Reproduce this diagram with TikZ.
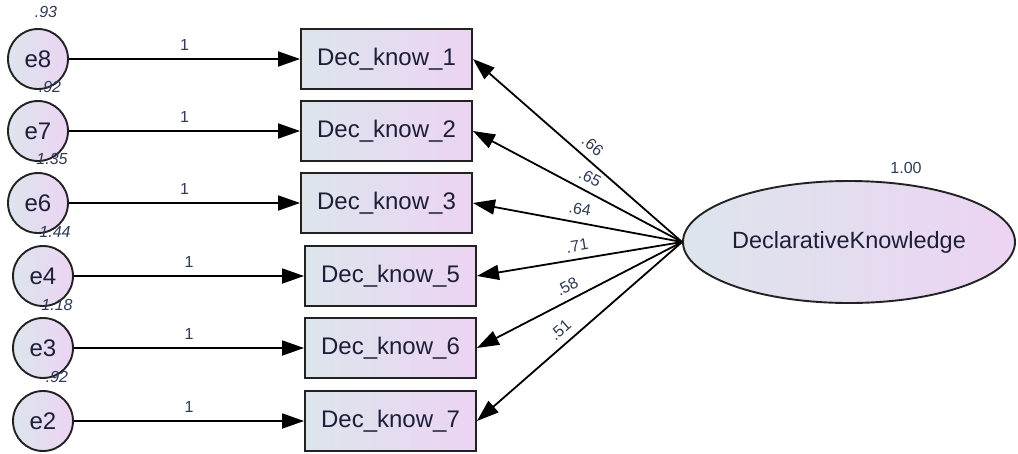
\documentclass[tikz,border=0pt]{standalone}
\usepackage{fontspec}
\setmainfont{Liberation Sans}
\usetikzlibrary{arrows.meta,shapes.geometric}
\definecolor{shadeL}{HTML}{DDE5EC}
\definecolor{shadeR}{HTML}{ECD4F3}
\definecolor{edgec}{HTML}{222222}
\definecolor{numc}{HTML}{2E3A55}
\definecolor{txtc}{HTML}{1E1E3A}
\tikzset{
  x=1pt, y=-1pt,
  obsbox/.style={draw=edgec, line width=1.9pt, left color=shadeL, right color=shadeR,
    minimum width=171pt, minimum height=60pt, inner sep=0pt, text=txtc,
    font=\fontsize{24}{26}\selectfont},
  errc/.style={circle, draw=edgec, line width=1.9pt, left color=shadeL, right color=shadeR,
    minimum size=60pt, inner sep=0pt, text=txtc, font=\fontsize{24}{26}\selectfont},
  latent/.style={ellipse, draw=edgec, line width=1.9pt, left color=shadeL, right color=shadeR,
    minimum width=332pt, minimum height=122pt, inner sep=0pt, text=txtc,
    font=\fontsize{23.5}{26}\selectfont},
  path/.style={draw=black, line width=1.8pt, -{Triangle[length=22pt,width=15pt]}},
  one/.style={font=\fontsize{16}{18}\selectfont, text=numc, inner sep=0pt},
  est/.style={font=\itshape\fontsize{16}{18}\selectfont, text=numc, inner sep=0pt},
  load/.style={font=\fontsize{16}{18}\selectfont, text=numc, inner sep=0pt},
}
\begin{document}
\begin{tikzpicture}
\useasboundingbox (0,0) rectangle (1018,453);

% observed indicators
\node[obsbox] (b1) at (386.5,59)  {Dec\_know\_1};
\node[obsbox] (b2) at (386.5,131) {Dec\_know\_2};
\node[obsbox] (b3) at (386.5,203) {Dec\_know\_3};
\node[obsbox] (b5) at (390.5,276) {Dec\_know\_5};
\node[obsbox] (b6) at (390.5,348) {Dec\_know\_6};
\node[obsbox] (b7) at (390.5,421) {Dec\_know\_7};

% error terms
\node[errc] (e8) at (38,59)  {e8};
\node[errc] (e7) at (38,131) {e7};
\node[errc] (e6) at (38,203) {e6};
\node[errc] (e4) at (43,276) {e4};
\node[errc] (e3) at (43,348) {e3};
\node[errc] (e2) at (43,421) {e2};

% error variances
\node[est] (v8) at (46,12)  {.93};
\node[est] (v7) at (50,87)  {.92};
\node[est] (v6) at (52,159) {1.35};
\node[est] (v4) at (55,232) {1.44};
\node[est] (v3) at (57,305) {1.18};
\node[est] (v2) at (57,377) {.92};

% latent factor
\node[latent] (dk) at (849,242) {DeclarativeKnowledge};
\node[load] (dv) at (906,168) {1.00};

% error paths, fixed at 1
\foreach \e/\b in {e8/b1,e7/b2,e6/b3,e4/b5,e3/b6,e2/b7}{
  \draw[path] (\e) -- node[one, above=8pt] {1} (\b.west);
}

% factor loadings
\draw[path] (dk.west) -- node[load, sloped, above=7pt, pos=0.47] {.66} (b1.east);
\draw[path] (dk.west) -- node[load, sloped, above=7pt, pos=0.47] {.65} (b2.east);
\draw[path] (dk.west) -- node[load, sloped, above=7pt, pos=0.50] {.64} (b3.east);
\draw[path] (dk.west) -- node[load, sloped, above=7pt, pos=0.50] {.71} (b5.east);
\draw[path] (dk.west) -- node[load, sloped, above=7pt, pos=0.53] {.58} (b6.east);
\draw[path] (dk.west) -- node[load, sloped, above=7pt, pos=0.55] {.51} (b7.east);
\end{tikzpicture}
\end{document}
